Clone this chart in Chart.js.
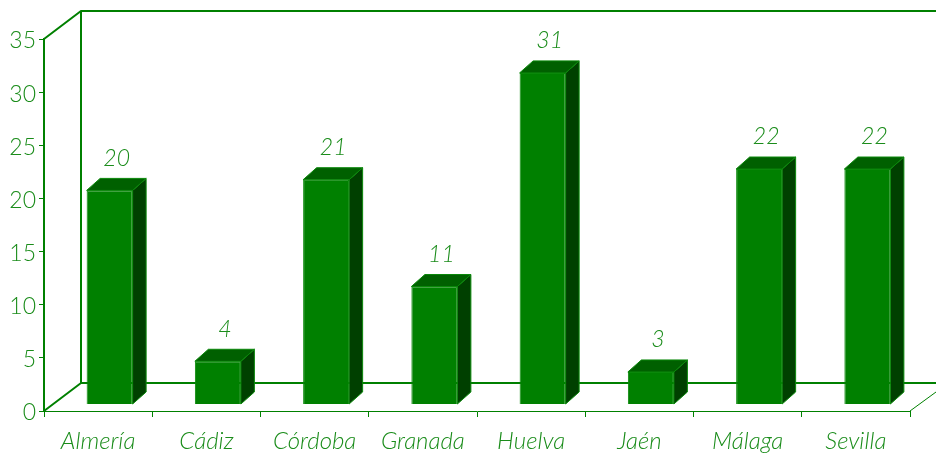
<!DOCTYPE html>
<html>
<head>
<meta charset="utf-8">
<style>
html, body { margin: 0; padding: 0; background: #fff; }
#wrap { width: 936px; height: 453px; }
</style>
<script src="https://cdn.jsdelivr.net/npm/chart.js@4"></script>
</head>
<body>
<div id="wrap"><canvas id="chart"></canvas></div>
<script>
const categories = ['Almería', 'Cádiz', 'Córdoba', 'Granada', 'Huelva', 'Jaén', 'Málaga', 'Sevilla'];
const totals = [20, 4, 21, 11, 31, 3, 22, 22];

const GREEN = '#008000';
const TEXT = '#1a8c1a';
const EDGE = '#0a880a';
const FONT = 'Lato';

// wall depth and how far the bars sit in front of the wall
const WALL = { x: 37, y: -28 };
const SHIFT = { x: 11.5, y: -7 };
const SIDE = { x: 13.5, y: -12 };

const box3d = {
    id: 'box3d',
    beforeDatasetsDraw(chart) {
        const { ctx, chartArea: a } = chart;
        const wx = a.left + WALL.x, wt = a.top + WALL.y, wb = a.bottom + WALL.y;
        ctx.save();
        ctx.strokeStyle = GREEN;
        ctx.lineWidth = 2;
        ctx.beginPath();
        ctx.moveTo(a.left, a.top); ctx.lineTo(wx, wt); ctx.lineTo(936, wt);
        ctx.moveTo(wx, wt); ctx.lineTo(wx, wb); ctx.lineTo(936, wb);
        ctx.moveTo(wx, wb); ctx.lineTo(a.left, a.bottom);
        ctx.stroke();
        ctx.lineWidth = 1;
        ctx.beginPath();
        ctx.moveTo(a.right, a.bottom); ctx.lineTo(936, a.bottom - 19);
        ctx.stroke();
        ctx.translate(SHIFT.x, SHIFT.y);
        chart.getDatasetMeta(0).data.forEach(bar => {
            const l = bar.x - bar.width / 2, r = bar.x + bar.width / 2;
            ctx.lineWidth = 1;
            ctx.strokeStyle = EDGE;
            ctx.fillStyle = '#004000';
            ctx.beginPath();
            ctx.moveTo(r, bar.y); ctx.lineTo(r + SIDE.x, bar.y + SIDE.y);
            ctx.lineTo(r + SIDE.x, bar.base + SIDE.y); ctx.lineTo(r, bar.base);
            ctx.closePath(); ctx.fill(); ctx.stroke();
            ctx.fillStyle = '#006000';
            ctx.beginPath();
            ctx.moveTo(l, bar.y); ctx.lineTo(l + SIDE.x, bar.y + SIDE.y);
            ctx.lineTo(r + SIDE.x, bar.y + SIDE.y); ctx.lineTo(r, bar.y);
            ctx.closePath(); ctx.fill(); ctx.stroke();
        });
        ctx.restore();
    },
    beforeDatasetDraw(chart) {
        chart.ctx.save();
        chart.ctx.translate(SHIFT.x, SHIFT.y);
    },
    afterDatasetDraw(chart) {
        chart.ctx.restore();
    },
    afterDatasetsDraw(chart) {
        const { ctx, scales } = chart;
        ctx.save();
        ctx.fillStyle = TEXT;
        ctx.textBaseline = 'middle';
        ctx.textAlign = 'center';
        ctx.font = 'italic 300 23px ' + FONT;
        chart.getDatasetMeta(0).data.forEach((bar, i) => {
            ctx.fillText(totals[i], bar.x + SHIFT.x + 7, bar.y + SHIFT.y - 32);
        });
        // y tick labels sit a little lower than chart.js would put them
        ctx.textAlign = 'right';
        ctx.font = '300 23px ' + FONT;
        scales.y.ticks.forEach(t => {
            ctx.fillText(t.value, scales.y.right - 8, scales.y.getPixelForValue(t.value) + 2);
        });
        ctx.restore();
    },
};

new Chart(document.getElementById('chart'), {
    type: 'bar',
    data: {
        labels: categories,
        datasets: [{
            data: totals,
            yAxisID: 'yBars',
            backgroundColor: '#008000',
            borderColor: EDGE,
            borderWidth: 1,
            categoryPercentage: 1,
            barPercentage: 0.425,
        }],
    },
    plugins: [box3d],
    options: {
        responsive: true,
        maintainAspectRatio: false,
        animation: false,
        layout: { padding: { top: 39, right: 26, left: 0, bottom: 0 } },
        plugins: { legend: { display: false }, tooltip: { enabled: false } },
        scales: {
            x: {
                afterFit: s => { s.height = 42; },
                border: { color: GREEN, width: 1 },
                grid: { drawOnChartArea: false, color: GREEN, tickLength: 6 },
                ticks: { color: TEXT, padding: 10, maxRotation: 0, font: { family: FONT, size: 24, style: 'italic', weight: '300' } },
            },
            y: {
                min: 0,
                max: 35,
                afterFit: s => { s.width = 44; },
                border: { color: GREEN, width: 2 },
                grid: { drawOnChartArea: false, color: GREEN, tickLength: 5 },
                ticks: { color: 'rgba(0,0,0,0)', stepSize: 5, padding: 2, font: { family: FONT, size: 23, weight: '300' } },
            },
            // the bars stand on the plane in front of the wall, so their scale runs slightly larger
            yBars: { display: false, min: 0, max: 34.83 },
        },
    },
});
</script>
</body>
</html>
